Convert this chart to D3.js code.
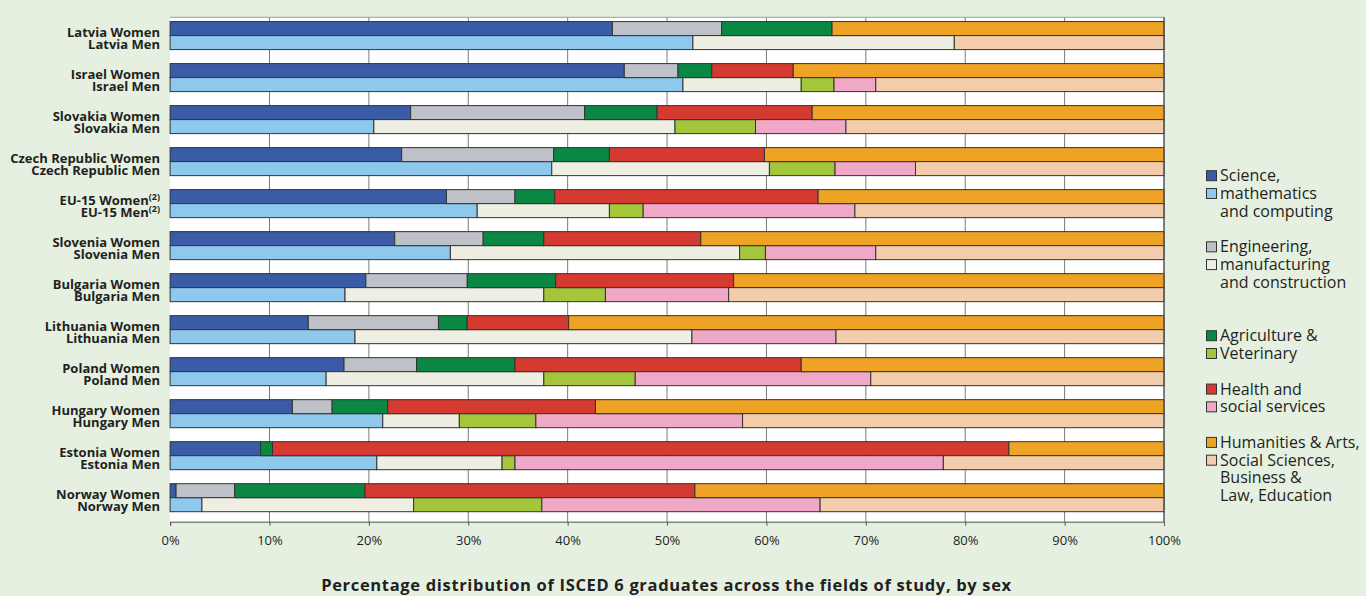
<!DOCTYPE html>
<html>
<head>
<meta charset="utf-8">
<script src="https://cdn.jsdelivr.net/npm/d3@7"></script>
<style>
  html, body { margin: 0; padding: 0; background: #e5f0e1; }
  svg { display: block; }
</style>
</head>
<body>
<svg id="chart" width="1366" height="596"></svg>
<script>
// Countries, top to bottom
const countries = ["Latvia", "Israel", "Slovakia", "Czech Republic", "EU-15", "Slovenia",
  "Bulgaria", "Lithuania", "Poland", "Hungary", "Estonia", "Norway"];
const footnoted = ["EU-15"];

// Field shares (%) per country, women and men
const scienceWomen     = [44.5, 45.7, 24.2, 23.3, 27.8, 22.6, 19.7, 13.9, 17.5, 12.3,  9.1,  0.6];
const scienceMen       = [52.6, 51.6, 20.5, 38.4, 30.9, 28.2, 17.6, 18.6, 15.7, 21.4, 20.8,  3.2];
const engineeringWomen = [11.0,  5.4, 17.5, 15.3,  6.9,  8.9, 10.2, 13.1,  7.3,  4.0,  0.0,  5.9];
const engineeringMen   = [26.3, 11.9, 30.3, 21.9, 13.3, 29.1, 20.0, 33.9, 21.9,  7.7, 12.6, 21.3];
const agricultureWomen = [11.1,  3.4,  7.3,  5.6,  4.0,  6.1,  8.9,  2.9,  9.9,  5.6,  1.2, 13.1];
const agricultureMen   = [ 0.0,  3.3,  8.1,  6.6,  3.4,  2.6,  6.2,  0.0,  9.2,  7.7,  1.3, 12.9];
const healthWomen      = [ 0.0,  8.2, 15.6, 15.6, 26.5, 15.8, 17.9, 10.2, 28.8, 20.9, 74.1, 33.2];
const healthMen        = [ 0.0,  4.2,  9.1,  8.1, 21.3, 11.1, 12.4, 14.5, 23.7, 20.8, 43.1, 28.0];
const humanitiesWomen  = [33.4, 37.3, 35.4, 40.2, 34.8, 46.6, 43.3, 59.9, 36.5, 57.2, 15.6, 47.2];
const humanitiesMen    = [21.1, 29.0, 32.0, 25.0, 31.1, 29.0, 43.8, 33.0, 29.5, 42.4, 22.2, 34.6];

const fieldKeys = ["science", "engineering", "agriculture", "health", "humanities"];
const womenColors = ["#3a5ba6", "#bfc1c8", "#0b8744", "#d43a2f", "#eea327"];
const menColors   = ["#8fc8ed", "#efeee3", "#a3c63d", "#f0a8c7", "#f3cdab"];
const legendLines = [
  ["Science,", "mathematics", "and computing"],
  ["Engineering,", "manufacturing", "and construction"],
  ["Agriculture &", "Veterinary"],
  ["Health and", "social services"],
  ["Humanities & Arts,", "Social Sciences,", "Business &", "Law, Education"]
];
const legendStartLine = [0, 4, 9, 12, 15];
const xTicks = [0, 10, 20, 30, 40, 50, 60, 70, 80, 90, 100];
const title = "Percentage distribution of ISCED 6 graduates across the fields of study, by sex";

const womenSeries = [scienceWomen, engineeringWomen, agricultureWomen, healthWomen, humanitiesWomen];
const menSeries   = [scienceMen, engineeringMen, agricultureMen, healthMen, humanitiesMen];

// One row per country and sex
const rows = [];
countries.forEach((c, i) => {
  ["Women", "Men"].forEach(sex => {
    const src = sex === "Women" ? womenSeries : menSeries;
    const r = { country: c, sex };
    fieldKeys.forEach((k, j) => r[k] = src[j][i]);
    rows.push(r);
  });
});

const svg = d3.select("#chart");
const plotLeft = 170.1, plotRight = 1164, plotTop = 17.3, plotBottom = 521.7;

const x = d3.scaleLinear().domain([0, 100]).range([plotLeft, plotRight]);
const y = d3.scaleBand().domain(countries).range([plotTop, plotBottom])
  .paddingInner(1 / 3).paddingOuter(0.17).align(0.3);
const half = y.bandwidth() / 2;

// Plot background
svg.append("rect").attr("x", plotLeft).attr("y", plotTop)
  .attr("width", plotRight - plotLeft).attr("height", plotBottom - plotTop).attr("fill", "#ffffff");

// Vertical gridlines
svg.append("g").selectAll("line").data(xTicks.slice(1))
  .join("line")
  .attr("x1", d => x(d)).attr("x2", d => x(d))
  .attr("y1", plotTop).attr("y2", plotBottom)
  .attr("stroke", "#7a7a7a").attr("stroke-width", 1);
svg.append("line").attr("x1", plotLeft).attr("x2", plotRight).attr("y1", plotTop).attr("y2", plotTop)
  .attr("stroke", "#9a9a9a").attr("stroke-width", 1);

// Stacked bars
const stack = d3.stack().keys(fieldKeys);
const series = stack(rows);
series.forEach((s, j) => {
  svg.append("g").selectAll("rect").data(s.filter(d => d[1] - d[0] > 0))
    .join("rect")
    .attr("x", d => x(d[0]))
    .attr("width", d => x(d[1]) - x(d[0]))
    .attr("y", d => y(d.data.country) + (d.data.sex === "Women" ? 0 : half))
    .attr("height", half)
    .attr("fill", d => d.data.sex === "Women" ? womenColors[j] : menColors[j])
    .attr("stroke", "#333333").attr("stroke-width", 1);
});

// Right border
svg.append("line").attr("x1", plotRight).attr("x2", plotRight).attr("y1", plotTop).attr("y2", plotBottom)
  .attr("stroke", "#555555").attr("stroke-width", 1.2);

// X axis
const xAxis = svg.append("g").attr("transform", `translate(0,${plotBottom})`)
  .call(d3.axisBottom(x).tickValues(xTicks).tickFormat(d => d + "%").tickSize(4).tickPadding(10));
xAxis.attr("font-size", 13).attr("font-family", "Open Sans");
xAxis.select(".domain").attr("stroke", "#555555");
xAxis.selectAll(".tick line").attr("stroke", "#555555");
xAxis.selectAll(".tick text").style("font-size", "13px").attr("fill", "#231f20");

// Category labels
const labels = svg.append("g").attr("font-family", "Open Sans").attr("font-weight", 700)
  .attr("font-size", 13).attr("fill", "#231f20").attr("text-anchor", "end");
countries.forEach(c => {
  const mid = y(c) + half;
  ["Women", "Men"].forEach((sex, k) => {
    const t = labels.append("text").attr("x", 160)
      .attr("y", mid + (k === 0 ? 1.6 : 13.6))
      .text(c + " " + sex);
    if (footnoted.includes(c)) {
      t.append("tspan").attr("font-size", 9).attr("dy", -5).text("(2)");
    }
  });
});

// Legend
const legend = svg.append("g").attr("font-family", "Open Sans").attr("font-size", 16)
  .attr("fill", "#231f20");
const lineY = n => 175.7 + n * 17.78;
legendLines.forEach((lines, i) => {
  lines.forEach((txt, k) => {
    legend.append("text").attr("x", 1220).attr("y", lineY(legendStartLine[i] + k) + 5.5).text(txt);
  });
  [womenColors[i], menColors[i]].forEach((col, k) => {
    legend.append("rect").attr("x", 1206.5)
      .attr("y", lineY(legendStartLine[i] + k) - 5)
      .attr("width", 10).attr("height", 10)
      .attr("fill", col).attr("stroke", "#333333").attr("stroke-width", 1);
  });
});

// Title, spread to its printed width
const titleText = svg.append("text").attr("x", 666.5).attr("y", 591)
  .attr("text-anchor", "middle").attr("font-family", "Open Sans").attr("font-weight", 700)
  .attr("font-size", 16.5).attr("fill", "#231f20").text(title);
const titleWidth = titleText.node().getComputedTextLength();
const targetWidth = 690;
if (titleWidth < targetWidth) {
  titleText.attr("letter-spacing", (targetWidth - titleWidth) / (title.length - 1));
}
</script>
</body>
</html>
